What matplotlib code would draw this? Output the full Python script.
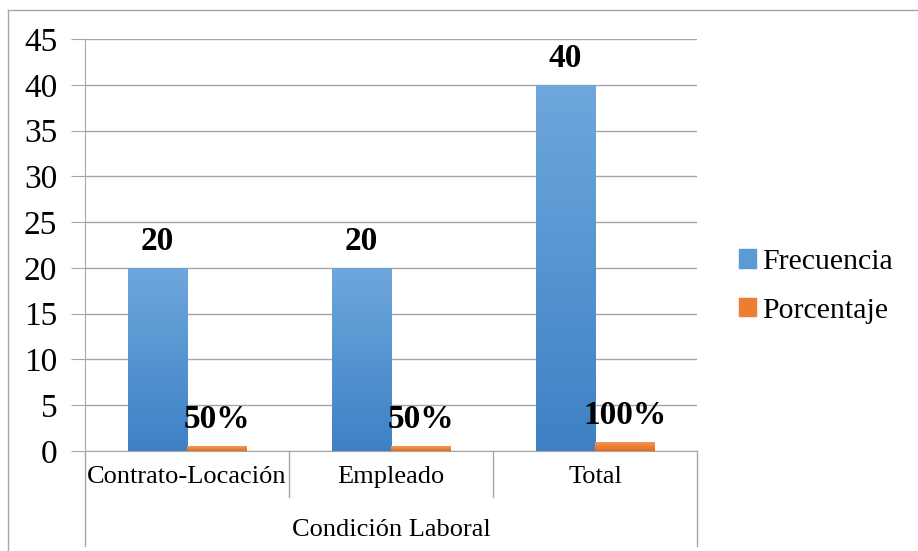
import matplotlib.pyplot as plt
import matplotlib.transforms as mtransforms
import numpy as np
from matplotlib.colors import LinearSegmentedColormap
from matplotlib.lines import Line2D
from matplotlib.patches import Patch

plt.rcParams['font.family'] = ['Liberation Serif', 'DejaVu Serif']

categorias = ['Contrato-Locación', 'Empleado', 'Total']
frecuencia = [20, 20, 40]
porcentaje = [0.5, 0.5, 1.0]
etiquetas_pct = ['50%', '50%', '100%']
grupo = 'Condición Laboral'

fig = plt.figure(figsize=(9.18, 5.51), dpi=100)
ax = fig.add_axes([0.0926, 0.1815, 0.6667, 0.7475])

x = np.arange(len(categorias))
w = 0.29
gris = '#a6a6a6'

cmap_azul = LinearSegmentedColormap.from_list('azul', ['#3d81c4', '#6fa7dd'])
cmap_nar = LinearSegmentedColormap.from_list('nar', ['#e26b1c', '#f79a5a'])
grad = np.linspace(0, 1, 256).reshape(-1, 1)

def barras_gradiente(xs, vals, cmap):
    bars = ax.bar(xs, vals, w, color='none', zorder=3)
    for b in bars:
        x0, y0 = b.get_x(), b.get_y()
        im = ax.imshow(grad, cmap=cmap, origin='lower', aspect='auto',
                       extent=[x0, x0 + b.get_width(), y0, y0 + b.get_height()],
                       zorder=3)
        im.set_clip_path(b)
    return bars

barras_gradiente(x - w / 2, frecuencia, cmap_azul)
barras_gradiente(x + w / 2, porcentaje, cmap_nar)

for xi, f in zip(x, frecuencia):
    ax.annotate(str(f), (xi - w / 2, f), xytext=(0, 13), textcoords='offset points',
                ha='center', va='baseline', fontsize=24, fontweight='bold')
for xi, p, t in zip(x, porcentaje, etiquetas_pct):
    ax.annotate(t, (xi + w / 2, p), xytext=(0, 13), textcoords='offset points',
                ha='center', va='baseline', fontsize=24, fontweight='bold')

ax.set_xlim(-0.5, 2.5)
ax.set_ylim(0, 45)
ax.set_yticks(range(0, 46, 5))
ax.yaxis.grid(True, color=gris, linewidth=1, zorder=0)
ax.set_axisbelow(True)
ax.set_xticks([])
ax.tick_params(axis='y', labelsize=24, length=10, pad=10, color=gris)
for s in ['top', 'right']:
    ax.spines[s].set_visible(False)
ax.spines['left'].set_color(gris)
ax.spines['bottom'].set_color(gris)

# ejes de categorias debajo del grafico
tr = mtransforms.blended_transform_factory(ax.transData, fig.transFigure)
for xd in [0.5, 1.5]:
    fig.add_artist(Line2D([xd, xd], [0.1815, 0.098], transform=tr, color=gris, lw=1))
for xd in [-0.5, 2.5]:
    fig.add_artist(Line2D([xd, xd], [0.1815, 0.009], transform=tr, color=gris, lw=1))
for xi, c in zip(x, categorias):
    fig.text(xi, 0.1343, c, transform=tr, ha='center', va='center', fontsize=19)
fig.text(1.0, 0.038, grupo, transform=tr, ha='center', va='center', fontsize=19)

# marco exterior
fig.add_artist(Line2D([8 / 918, 8 / 918], [0, 541 / 551], color=gris, lw=1))
fig.add_artist(Line2D([8 / 918, 1], [541 / 551, 541 / 551], color=gris, lw=1))

handles = [Patch(color='#5b9bd5', label='Frecuencia'),
           Patch(color='#ed7d31', label='Porcentaje')]
fig.legend(handles=handles, loc='center left', bbox_to_anchor=(0.805, 0.48),
           frameon=False, fontsize=21.5, handlelength=0.58, handleheight=0.58,
           handletextpad=0.2, labelspacing=0.75, borderaxespad=0, borderpad=0)

fig.savefig('out.png', dpi=100)
